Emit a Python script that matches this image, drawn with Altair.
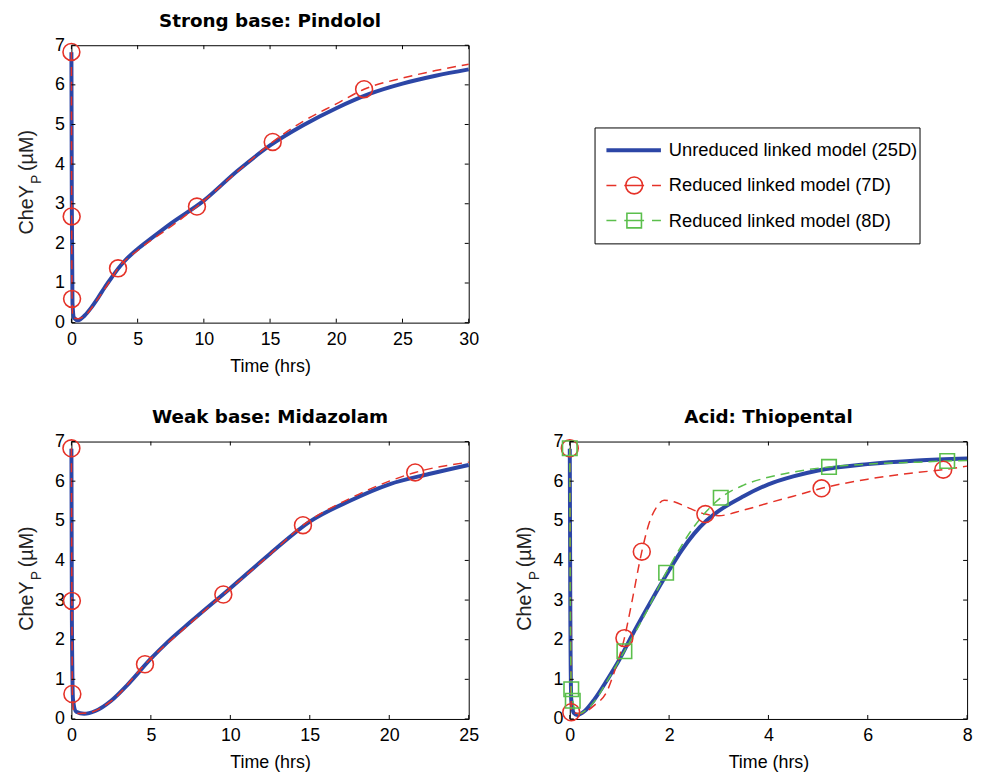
import altair as alt
import pandas as pd

# ---------------- data ----------------
PANEL_TITLES = ["Strong base: Pindolol", "Weak base: Midazolam", "Acid: Thiopental"]
SERIES = ["Unreduced linked model (25D)", "Reduced linked model (7D)", "Reduced linked model (8D)"]
X_TITLE = "Time (hrs)"
Y_TITLE_MAIN = "CheY"
Y_TITLE_SUB = "P"
Y_TITLE_UNIT = "(\u00b5M)"

p1_x_ticks = [0, 5, 10, 15, 20, 25, 30]
p2_x_ticks = [0, 5, 10, 15, 20, 25]
p3_x_ticks = [0, 2, 4, 6, 8]
y_ticks = [0, 1, 2, 3, 4, 5, 6, 7]

# Strong base: Pindolol
pin_blue_t = [0, 0.03, 0.08, 0.2, 0.5, 1, 1.5, 2, 2.5, 3, 3.5, 4, 5, 6, 7.5, 10, 12.5, 15, 17.5, 20, 22.5, 25, 27.5, 30]
pin_blue_v = [6.82, 3.0, 0.5, 0.12, 0.06, 0.18, 0.38, 0.62, 0.88, 1.12, 1.35, 1.55, 1.86, 2.12, 2.5, 3.08, 3.82, 4.47, 4.98, 5.41, 5.77, 6.03, 6.23, 6.39]
pin_red_t = [0, 0.02, 0.05, 0.1, 0.5, 1, 2, 3, 3.52, 5, 7.5, 9.48, 12.5, 15.2, 17.5, 20, 22.1, 25, 27.5, 30]
pin_red_v = [6.83, 2.68, 0.6, 0.12, 0.1, 0.17, 0.6, 1.1, 1.37, 1.82, 2.42, 2.93, 3.8, 4.56, 5.08, 5.52, 5.89, 6.17, 6.36, 6.52]
pin_mk_t = [0, 0.02, 0.05, 3.52, 9.48, 15.2, 22.1]
pin_mk_v = [6.83, 2.68, 0.6, 1.37, 2.93, 4.56, 5.89]

# Weak base: Midazolam
mid_blue_t = [0, 0.03, 0.1, 0.3, 0.8, 1.5, 2.5, 3.5, 5, 6, 7.5, 10, 12.5, 15, 17.5, 20, 22.5, 25]
mid_blue_v = [6.82, 2.5, 0.5, 0.18, 0.13, 0.2, 0.46, 0.85, 1.52, 1.92, 2.45, 3.3, 4.17, 4.98, 5.5, 5.92, 6.18, 6.41]
mid_red_t = [0, 0.03, 0.06, 0.15, 0.5, 1, 2.5, 4.63, 7.5, 9.56, 12.5, 14.57, 17.5, 20, 21.63, 25]
mid_red_v = [6.83, 2.98, 0.63, 0.18, 0.14, 0.15, 0.45, 1.38, 2.42, 3.14, 4.15, 4.89, 5.56, 6.0, 6.22, 6.48]
mid_mk_t = [0, 0.03, 0.06, 4.63, 9.56, 14.57, 21.63]
mid_mk_v = [6.83, 2.98, 0.63, 1.38, 3.14, 4.89, 6.22]

# Acid: Thiopental
thi_blue_t = [0, 0.01, 0.03, 0.08, 0.15, 0.3, 0.5, 0.75, 1, 1.25, 1.5, 1.75, 2, 2.25, 2.5, 2.75, 3, 3.5, 4, 4.5, 5, 6, 7, 8]
thi_blue_v = [6.82, 3.0, 0.5, 0.15, 0.1, 0.2, 0.5, 0.98, 1.5, 2.1, 2.67, 3.22, 3.75, 4.25, 4.67, 5.0, 5.25, 5.62, 5.92, 6.12, 6.27, 6.43, 6.52, 6.57]
thi_red_t = [0, 0.015, 0.03, 0.2, 0.5, 0.75, 0.9, 1.1, 1.25, 1.45, 1.6, 1.75, 1.9, 2.1, 2.4, 2.73, 3.0, 3.5, 4.0, 4.5, 5.07, 6, 7, 7.52, 8]
thi_red_v = [6.83, 3.0, 0.17, 0.14, 0.35, 0.7, 1.2, 2.04, 2.95, 4.22, 4.95, 5.35, 5.52, 5.48, 5.32, 5.17, 5.13, 5.27, 5.45, 5.62, 5.82, 6.05, 6.22, 6.29, 6.38]
thi_red_mk_t = [0, 0.03, 1.1, 1.45, 2.73, 5.07, 7.52]
thi_red_mk_v = [6.83, 0.17, 2.04, 4.22, 5.17, 5.82, 6.29]
thi_green_t = [0, 0.01, 0.03, 0.06, 0.15, 0.3, 0.5, 0.75, 1.1, 1.5, 1.94, 2.5, 3.04, 3.5, 4, 4.5, 5.22, 6, 7, 7.6, 8]
thi_green_v = [6.83, 3.0, 0.75, 0.46, 0.12, 0.2, 0.45, 0.95, 1.71, 2.6, 3.69, 4.85, 5.58, 5.9, 6.1, 6.23, 6.36, 6.43, 6.48, 6.51, 6.52]
thi_green_mk_t = [0, 0.03, 0.06, 1.1, 1.94, 3.04, 5.22, 7.6]
thi_green_mk_v = [6.83, 0.75, 0.46, 1.71, 3.69, 5.58, 6.36, 6.51]

# ---------------- style ----------------
BLUE = "#2C46A6"
RED = "#E53228"
GREEN = "#5BBF4C"
FONT = "Liberation Sans"
TFONT = "DejaVu Sans"
W, H = 401, 280
TICK = 4
TITLE_OFFSET = 6
DASH = [9, 6]
CIRCLE = 290
SQUARE = 215


def df(t, v):
    return pd.DataFrame({"t": t, "v": v})


def make_panel(title, xmax, xticks, lines, markers):
    xs = alt.Scale(domain=[0, xmax], nice=False, zero=False)
    ys = alt.Scale(domain=[0, 7], nice=False, zero=False)
    xaxis = alt.Axis(values=xticks, ticks=False, tickSize=0, domain=False, grid=False,
                     labelFont=FONT, labelFontSize=18, labelColor="black", labelPadding=8,
                     labelFlush=False, labelOverlap=False, format="d",
                     title=X_TITLE, titleFont=FONT, titleFontSize=18, titleFontWeight="normal",
                     titleColor="black", titlePadding=9)
    yaxis = alt.Axis(values=y_ticks, ticks=False, tickSize=0, domain=False, grid=False,
                     labelFont=FONT, labelFontSize=18, labelColor="black", labelPadding=7,
                     labelFlush=False, labelOverlap=False, format="d", title=None)

    def X():
        return alt.X("t:Q", scale=xs, axis=xaxis)

    def Y():
        return alt.Y("v:Q", scale=ys, axis=yaxis)

    layers = []
    for (t, v, color, width, dash) in lines:
        kw = dict(color=color, strokeWidth=width, interpolate="monotone")
        if dash:
            kw["strokeDash"] = dash
        layers.append(alt.Chart(df(t, v)).mark_line(**kw).encode(x=X(), y=Y()))
    for (t, v, color, shape, size) in markers:
        layers.append(alt.Chart(df(t, v)).mark_point(shape=shape, filled=False, color=color,
                                                     size=size, strokeWidth=1.6, opacity=1)
                      .encode(x=X(), y=Y()))

    xt = pd.DataFrame({"t": xticks})
    yt = pd.DataFrame({"v": y_ticks})
    layers += [
        alt.Chart(xt).mark_rule(color="black", strokeWidth=1).encode(x=X(), y=alt.value(H), y2=alt.value(H - TICK)),
        alt.Chart(xt).mark_rule(color="black", strokeWidth=1).encode(x=X(), y=alt.value(0), y2=alt.value(TICK)),
        alt.Chart(yt).mark_rule(color="black", strokeWidth=1).encode(y=Y(), x=alt.value(0), x2=alt.value(TICK)),
        alt.Chart(yt).mark_rule(color="black", strokeWidth=1).encode(y=Y(), x=alt.value(W - TICK), x2=alt.value(W)),
    ]
    one = alt.Data(values=[{"k": 1}])
    mid = H / 2
    layers += [
        alt.Chart(one).mark_text(angle=270, align="left", baseline="alphabetic", font=FONT,
                                 fontSize=20, color="#222222")
        .encode(x=alt.value(-39), y=alt.value(mid + 51), text=alt.value(Y_TITLE_MAIN)),
        alt.Chart(one).mark_text(angle=270, align="left", baseline="alphabetic", font=FONT,
                                 fontSize=14, color="#222222")
        .encode(x=alt.value(-31), y=alt.value(mid), text=alt.value(Y_TITLE_SUB)),
        alt.Chart(one).mark_text(angle=270, align="left", baseline="alphabetic", font=FONT,
                                 fontSize=20, color="#222222")
        .encode(x=alt.value(-39), y=alt.value(mid - 13), text=alt.value(Y_TITLE_UNIT)),
    ]
    return alt.layer(*layers).properties(
        width=W, height=H,
        title=alt.Title(title, font=TFONT, fontSize=18.5, fontWeight="bold", color="black",
                        offset=TITLE_OFFSET),
    )


p1 = make_panel(PANEL_TITLES[0], 30, p1_x_ticks,
                [(pin_blue_t, pin_blue_v, BLUE, 4, None),
                 (pin_red_t, pin_red_v, RED, 1.5, DASH)],
                [(pin_mk_t, pin_mk_v, RED, "circle", CIRCLE)])
p2 = make_panel(PANEL_TITLES[1], 25, p2_x_ticks,
                [(mid_blue_t, mid_blue_v, BLUE, 4, None),
                 (mid_red_t, mid_red_v, RED, 1.5, DASH)],
                [(mid_mk_t, mid_mk_v, RED, "circle", CIRCLE)])
p3 = make_panel(PANEL_TITLES[2], 8, p3_x_ticks,
                [(thi_blue_t, thi_blue_v, BLUE, 4, None),
                 (thi_red_t, thi_red_v, RED, 1.5, DASH),
                 (thi_green_t, thi_green_v, GREEN, 1.5, DASH)],
                [(thi_red_mk_t, thi_red_mk_v, RED, "circle", CIRCLE),
                 (thi_green_mk_t, thi_green_mk_v, GREEN, "square", SQUARE)])

# ---------------- legend panel ----------------
LW, LH = 328, 117
leg_df = pd.DataFrame({"name": SERIES})
ly = alt.Y("name:N", scale=alt.Scale(type="point", domain=SERIES, range=[23, 94], padding=0), axis=None)
LEG_DASH = [10, 8, 20, 8, 10]


def only(i):
    return alt.datum.name == SERIES[i]


legend = alt.layer(
    alt.Chart(leg_df).transform_filter(only(0)).mark_rule(color=BLUE, strokeWidth=4)
    .encode(x=alt.value(12), x2=alt.value(67), y=ly),
    alt.Chart(leg_df).transform_filter(only(1)).mark_rule(color=RED, strokeWidth=1.5, strokeDash=LEG_DASH)
    .encode(x=alt.value(12), x2=alt.value(67), y=ly),
    alt.Chart(leg_df).transform_filter(only(2)).mark_rule(color=GREEN, strokeWidth=1.5, strokeDash=LEG_DASH)
    .encode(x=alt.value(12), x2=alt.value(67), y=ly),
    alt.Chart(leg_df).transform_filter(only(1)).mark_point(shape="circle", filled=False, color=RED,
                                                          size=CIRCLE, strokeWidth=1.6, opacity=1)
    .encode(x=alt.value(40), y=ly),
    alt.Chart(leg_df).transform_filter(only(2)).mark_point(shape="square", filled=False, color=GREEN,
                                                          size=SQUARE, strokeWidth=1.6, opacity=1)
    .encode(x=alt.value(40), y=ly),
    alt.Chart(leg_df).mark_text(align="left", baseline="middle", font=FONT, fontSize=18.5, color="black")
    .encode(x=alt.value(75), y=ly, text="name:N"),
).properties(width=LW, height=LH)

spacer = alt.Chart(alt.Data(values=[{"k": 1}])).mark_point(opacity=0).encode(
    x=alt.value(0), y=alt.value(0)
).properties(width=LW, height=81, view=alt.ViewBackground(stroke="transparent"))

right = alt.vconcat(spacer, legend, spacing=0)

top = alt.hconcat(p1, right, spacing=112)
bottom = alt.hconcat(p2, p3, spacing=35)
chart = alt.vconcat(top, bottom, spacing=32).configure_view(
    stroke="black", strokeWidth=1
).properties(padding={"left": 8, "top": 0, "right": 0, "bottom": 0})

chart.save("out.html", embed_options={"renderer": "svg", "actions": False})
